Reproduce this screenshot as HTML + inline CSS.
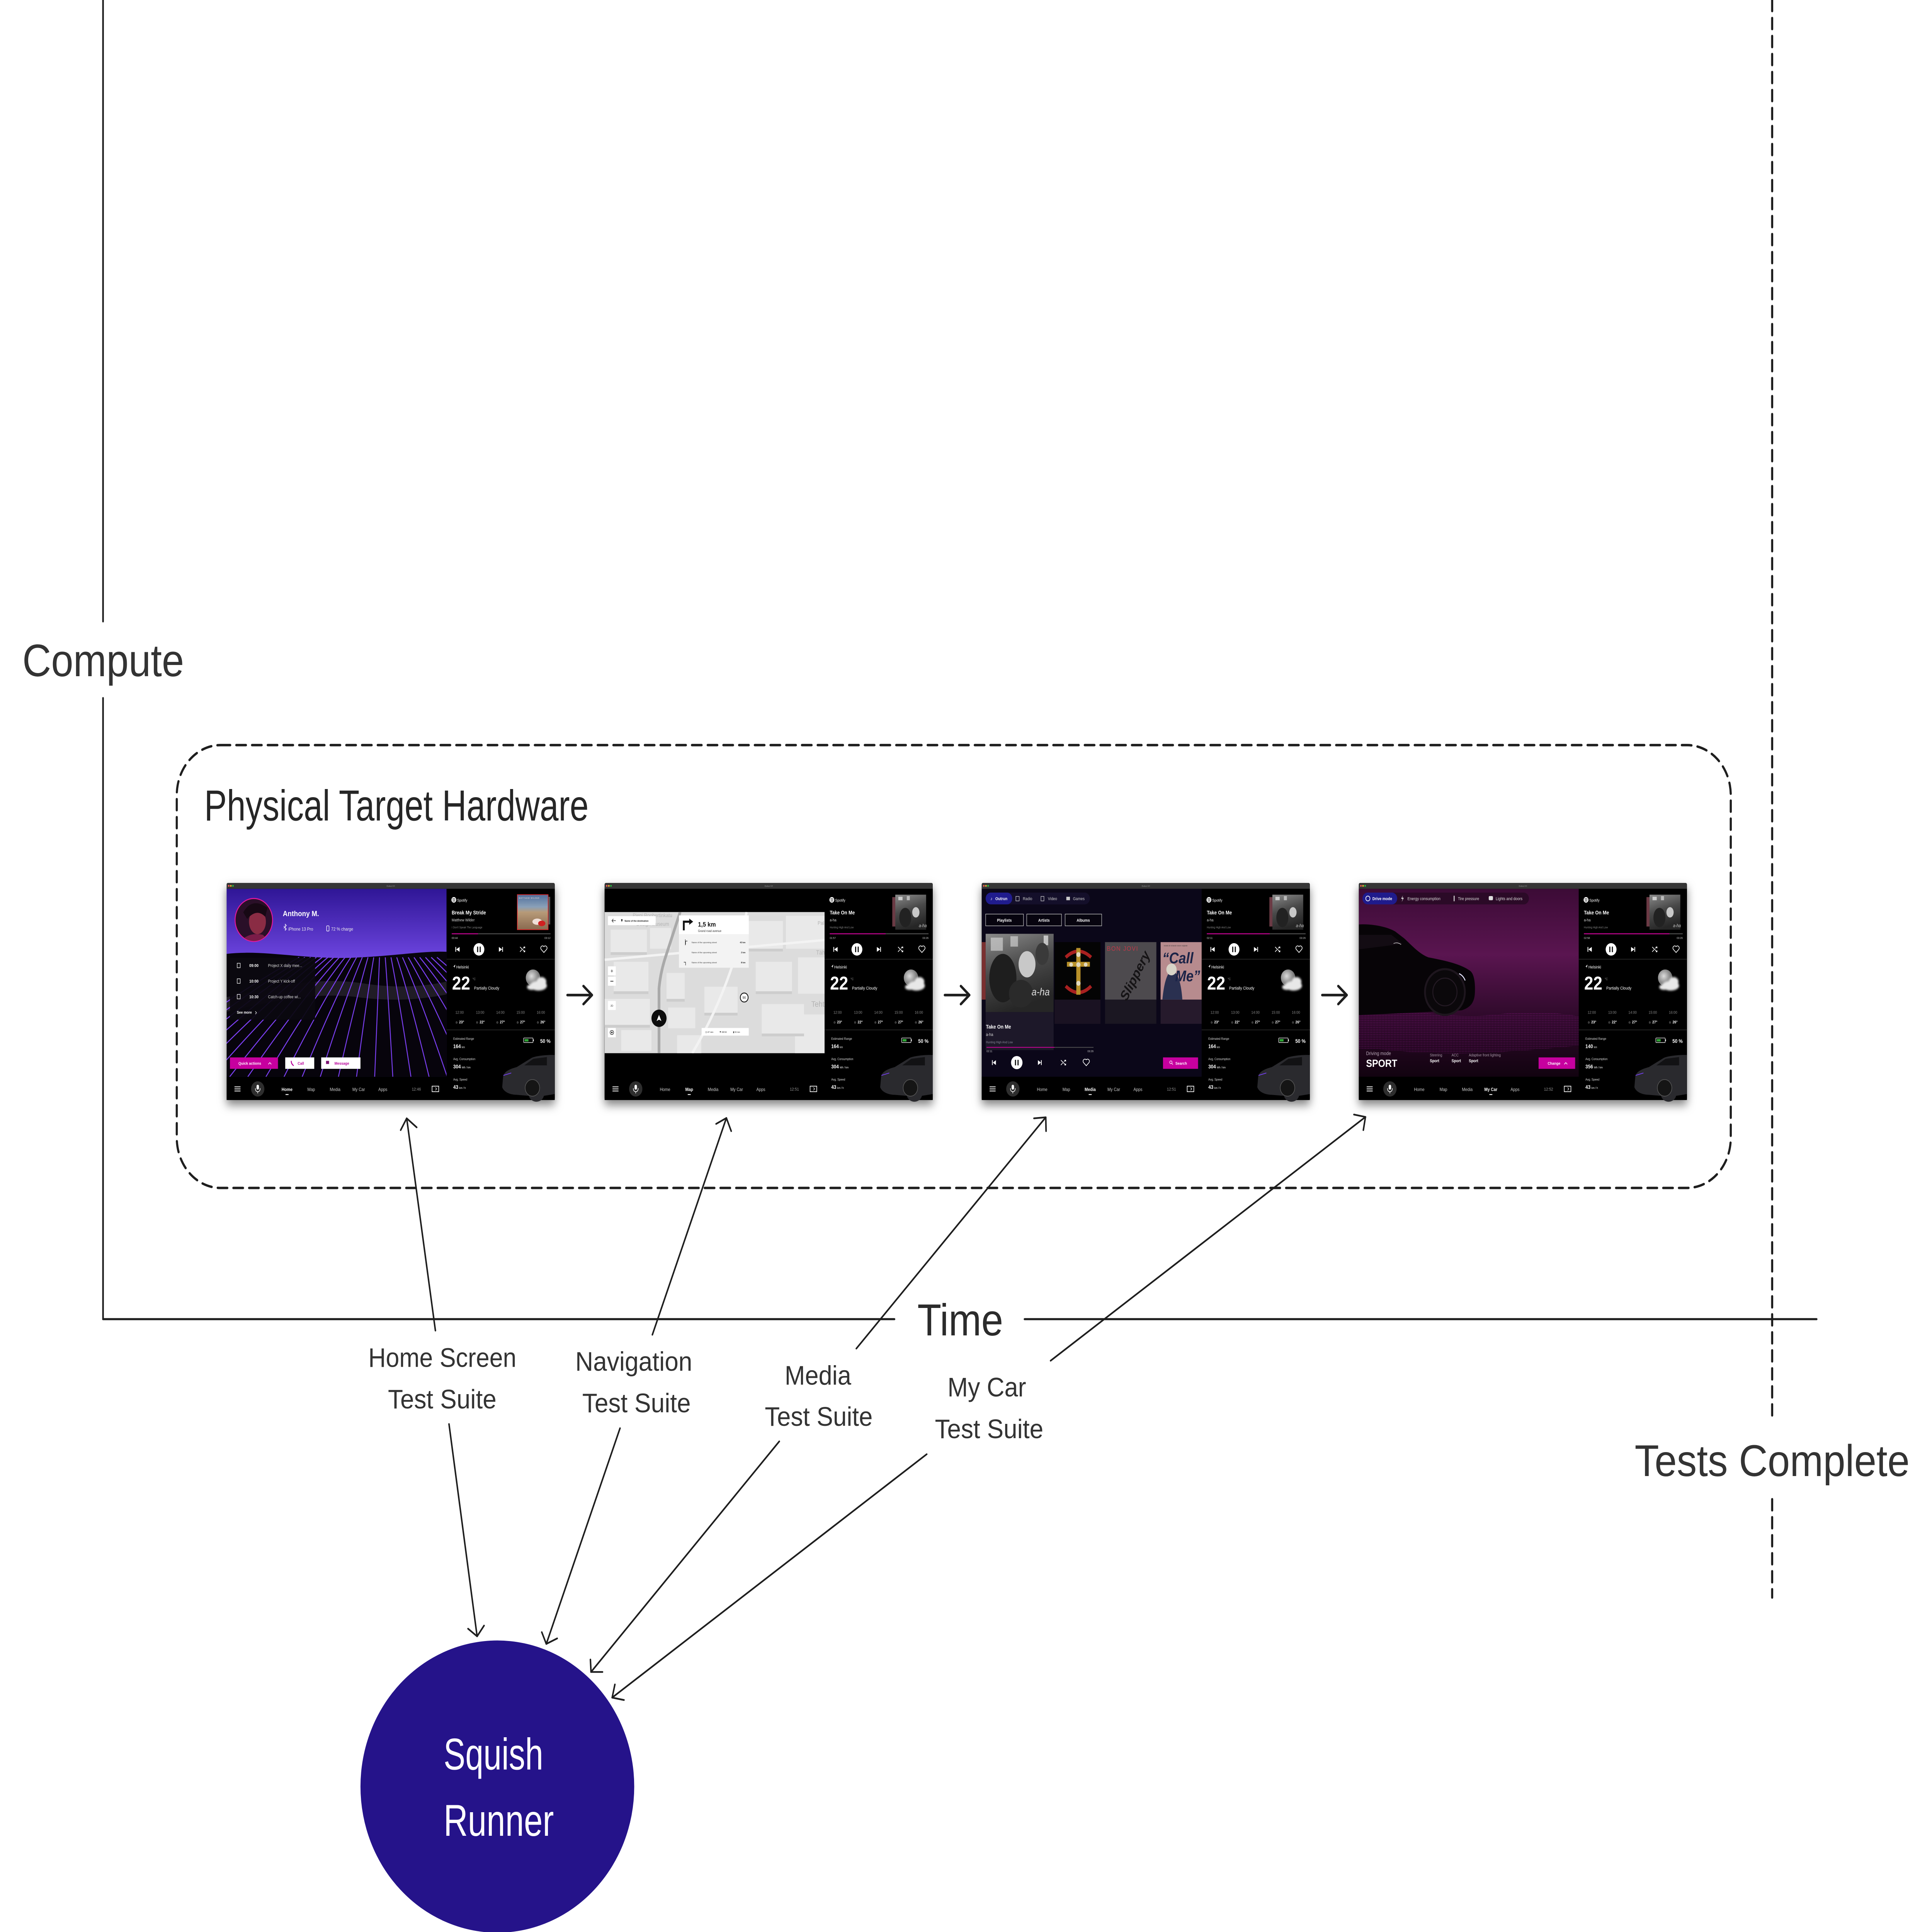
<!DOCTYPE html>
<html><head><meta charset="utf-8"><style>
html,body{margin:0;padding:0;background:#fff;width:100%;height:100%;overflow:hidden;}
svg{display:block;width:100vw;height:100vh;}
text{font-family:"Liberation Sans",sans-serif;}
</style></head><body>
<svg xmlns="http://www.w3.org/2000/svg" viewBox="0 0 6394 5580" preserveAspectRatio="none">
<defs>
<filter id="sh" x="-6%" y="-6%" width="112%" height="124%"><feDropShadow dx="0" dy="14" stdDeviation="14" flood-color="#000" flood-opacity="0.5"/></filter>
<filter id="bl2" x="-50%" y="-50%" width="200%" height="200%"><feGaussianBlur stdDeviation="3"/></filter>
<clipPath id="lp"><rect x="0" y="17" width="728" height="543"/></clipPath>
<clipPath id="mp"><rect x="0" y="84" width="728" height="408"/></clipPath>
<clipPath id="av"><circle cx="90" cy="107" r="61"/></clipPath>
<linearGradient id="sky1" x1="0" y1="17" x2="0" y2="215" gradientUnits="userSpaceOnUse"><stop offset="0" stop-color="#2f1696"/><stop offset="1" stop-color="#6c44de"/></linearGradient>
<radialGradient id="moon" cx="0.4" cy="0.4" r="0.6"><stop offset="0" stop-color="#dcdcdc"/><stop offset="1" stop-color="#666"/></radialGradient>
<linearGradient id="art1" x1="0" y1="0" x2="0" y2="1"><stop offset="0" stop-color="#4f6f9c"/><stop offset="0.35" stop-color="#8aa0b8"/><stop offset="0.5" stop-color="#b79a78"/><stop offset="1" stop-color="#8a6a50"/></linearGradient>
<linearGradient id="bw" x1="0" y1="0" x2="0.3" y2="1"><stop offset="0" stop-color="#8a8a8a"/><stop offset="0.5" stop-color="#4a4a4a"/><stop offset="1" stop-color="#262626"/></linearGradient>
<linearGradient id="sky4" x1="0" y1="17" x2="0" y2="560" gradientUnits="userSpaceOnUse"><stop offset="0" stop-color="#3c0b36"/><stop offset="0.35" stop-color="#5a1550"/><stop offset="0.7" stop-color="#2c0928"/><stop offset="1" stop-color="#120310"/></linearGradient>
<pattern id="dots" width="5" height="5" patternUnits="userSpaceOnUse"><circle cx="2.5" cy="2.5" r="1.1" fill="#c21fc0"/></pattern>
</defs>

<rect width="6394" height="5580" fill="#fff"/>

<!-- axes -->
<g stroke="#1e1e1e" stroke-linecap="round" fill="none">
<line x1="341" y1="0" x2="341" y2="1795" stroke-width="5.5"/>
<line x1="341" y1="2016" x2="341" y2="3810" stroke-width="5.5"/>
<line x1="341" y1="3810" x2="2960" y2="3810" stroke-width="6"/>
<line x1="3391" y1="3810" x2="6012" y2="3810" stroke-width="6"/>
<line x1="5865" y1="0" x2="5865" y2="4105" stroke-width="7" stroke-dasharray="32 20"/>
<line x1="5865" y1="4330" x2="5865" y2="4614" stroke-width="7" stroke-dasharray="32 20"/>
<rect x="585" y="2152" width="5143" height="1279" rx="145" ry="145" stroke-width="7" stroke-dasharray="32 20"/>
</g>

<!-- big labels -->
<text x="74" y="1953" font-size="132" fill="#333" textLength="535" lengthAdjust="spacingAndGlyphs">Compute</text>
<text x="676" y="2370" font-size="125" fill="#262626" textLength="1272" lengthAdjust="spacingAndGlyphs">Physical Target Hardware</text>
<text x="3036" y="3857" font-size="130" fill="#2b2b2b" textLength="284" lengthAdjust="spacingAndGlyphs">Time</text>
<text x="5410" y="4263" font-size="128" fill="#333" textLength="910" lengthAdjust="spacingAndGlyphs">Tests Complete</text>

<!-- suite labels -->
<g font-size="78" fill="#333">
<text x="1219" y="3948" textLength="490" lengthAdjust="spacingAndGlyphs">Home Screen</text>
<text x="1284" y="4068" textLength="359" lengthAdjust="spacingAndGlyphs">Test Suite</text>
<text x="1904" y="3959" textLength="387" lengthAdjust="spacingAndGlyphs">Navigation</text>
<text x="1927" y="4079" textLength="359" lengthAdjust="spacingAndGlyphs">Test Suite</text>
<text x="2597" y="3999" textLength="220" lengthAdjust="spacingAndGlyphs">Media</text>
<text x="2531" y="4118" textLength="357" lengthAdjust="spacingAndGlyphs">Test Suite</text>
<text x="3136" y="4033" textLength="260" lengthAdjust="spacingAndGlyphs">My Car</text>
<text x="3094" y="4154" textLength="359" lengthAdjust="spacingAndGlyphs">Test Suite</text>
</g>

<!-- connectors -->
<g stroke="#1e1e1e" stroke-width="5" stroke-linecap="round" stroke-linejoin="round" fill="none">
<line x1="1441" y1="3843" x2="1346" y2="3230"/><polyline points="1326,3264 1346,3230 1379,3256"/>
<line x1="2159" y1="3855" x2="2404" y2="3229"/><polyline points="2370,3246 2404,3229 2420,3267"/>
<line x1="2834" y1="3895" x2="3461" y2="3227"/><polyline points="3422,3230 3461,3227 3462,3267"/>
<line x1="3477" y1="3930" x2="4519" y2="3226"/><polyline points="4481,3219 4519,3226 4512,3264"/>
<line x1="1486" y1="4113" x2="1579" y2="4726"/><polyline points="1549,4704 1579,4726 1602,4695"/>
<line x1="2052" y1="4125" x2="1808" y2="4748"/><polyline points="1793,4714 1808,4748 1844,4732"/>
<line x1="2579" y1="4163" x2="1956" y2="4829"/><polyline points="1954,4793 1956,4829 1994,4829"/>
<line x1="3067" y1="4200" x2="2026" y2="4903"/><polyline points="2035,4865 2026,4903 2065,4910"/>
</g>
<g stroke="#1e1e1e" stroke-width="7.5" stroke-linecap="round" stroke-linejoin="round" fill="none">
<line x1="1878" y1="2874" x2="1959" y2="2874"/><polyline points="1931,2848 1959,2874 1931,2900"/>
<line x1="3127" y1="2874" x2="3208" y2="2874"/><polyline points="3180,2848 3208,2874 3180,2900"/>
<line x1="4376" y1="2874" x2="4457" y2="2874"/><polyline points="4429,2848 4457,2874 4429,2900"/>
</g>

<!-- Squish Runner -->
<ellipse cx="1646" cy="5160" rx="453" ry="422" fill="#25138a"/>
<text x="1468" y="5111" font-size="128" fill="#fff" textLength="330" lengthAdjust="spacingAndGlyphs">Squish</text>
<text x="1468" y="5302" font-size="128" fill="#fff" textLength="365" lengthAdjust="spacingAndGlyphs">Runner</text>

<!-- ================= SCREENSHOT 1 : HOME ================= -->
<g transform="translate(750,2550)">
<rect x="0" y="0" width="1086" height="627" rx="5" fill="#000" filter="url(#sh)"/>
<g clip-path="url(#lp)">
<rect x="0" y="17" width="728" height="543" fill="url(#sky1)"/>
<path d="M0 205 C120 192 260 222 420 216 C560 211 650 196 728 199 L728 560 L0 560Z" fill="#07040c"/>
<path d="M0 330 C150 300 300 270 450 290 C560 305 650 300 728 285 L728 322 C640 337 560 342 450 332 C300 312 150 342 0 372Z" fill="#34323c" opacity="0.55"/>
<g stroke="#7b3ff2" stroke-width="3" fill="none">
<path d="M-350 560 Q4 330 240 215"/><path d="M-290 560 Q39 330 259 215"/><path d="M-230 560 Q75 330 278 215"/>
<path d="M-170 560 Q110 330 297 215"/><path d="M-110 560 Q146 330 316 215"/><path d="M-50 560 Q181 330 335 215"/>
<path d="M10 560 Q216 330 354 215"/><path d="M70 560 Q252 330 373 215"/><path d="M130 560 Q287 330 392 215"/>
<path d="M190 560 Q323 330 411 215"/><path d="M250 560 Q358 330 430 215"/><path d="M310 560 Q393 330 449 215"/>
<path d="M370 560 Q429 330 468 215"/><path d="M430 560 Q464 330 487 215"/><path d="M490 560 Q500 330 506 215"/>
<path d="M550 560 Q535 330 525 215"/><path d="M610 560 Q570 330 544 215"/><path d="M670 560 Q606 330 563 215"/>
<path d="M730 560 Q641 330 582 215"/><path d="M790 560 Q677 330 601 215"/><path d="M850 560 Q712 330 620 215"/>
<path d="M910 560 Q747 330 639 215"/><path d="M970 560 Q783 330 658 215"/><path d="M1030 560 Q818 330 677 215"/>
<path d="M1090 560 Q854 330 696 215"/>
</g>
<circle cx="90" cy="107" r="62" fill="#2a0f28" stroke="#e3179d" stroke-width="3"/>
<g clip-path="url(#av)">
<path d="M40 175 Q70 140 120 150 L150 175Z" fill="#7a1c48"/>
<ellipse cx="102" cy="112" rx="28" ry="36" fill="#8a2c44"/>
<path d="M55 85 Q85 40 135 72 L128 98 Q100 72 68 104Z" fill="#170814"/>
</g>
<text x="186" y="96" font-size="22" font-weight="bold" fill="#fff">Anthony M.</text>
<path d="M189 125 L198 133 L194 137 V119 L198 123 L189 131" stroke="#fff" stroke-width="1.4" fill="none"/>
<text x="204" y="138" font-size="13" fill="#eee">iPhone 13 Pro</text>
<rect x="331" y="124" width="8" height="15" rx="1.5" fill="none" stroke="#fff" stroke-width="1.6"/>
<text x="346" y="138" font-size="13" fill="#eee">72 % charge</text>
<rect x="11" y="216" width="282" height="179" fill="#0b0810" opacity="0.94"/>
<g fill="none" stroke="#fff" stroke-width="1.5">
<rect x="35" y="232" width="10" height="13"/><rect x="35" y="277" width="10" height="13"/><rect x="35" y="322" width="10" height="13"/>
</g>
<g font-size="12" fill="#fff">
<text x="75" y="243" font-weight="bold">09:00</text><text x="137" y="243" fill="#ddd">Project X daily mee...</text>
<text x="75" y="288" font-weight="bold">10:00</text><text x="137" y="288" fill="#ddd">Project Y kick-off</text>
<text x="75" y="333" font-weight="bold">10:30</text><text x="137" y="333" fill="#ddd">Catch-up coffee wi...</text>
<text x="34" y="378" font-size="11" font-weight="bold">See more</text>
</g>
<path d="M95 371 L99 375 L95 379" stroke="#fff" stroke-width="1.5" fill="none"/>
<rect x="11" y="504" width="159" height="33" fill="#c7009f"/>
<text x="39" y="525" font-size="11.5" font-weight="bold" fill="#fff">Quick actions</text>
<path d="M138 524 L143 519 L148 524" stroke="#fff" stroke-width="1.8" fill="none"/>
<rect x="194" y="504" width="96" height="33" fill="#fff"/>
<path d="M214 514 Q213 522 222 528" stroke="#b8009a" stroke-width="3" fill="none"/>
<text x="235" y="525" font-size="11.5" font-weight="bold" fill="#b8009a">Call</text>
<rect x="313" y="504" width="130" height="33" fill="#fff"/>
<rect x="329" y="514" width="10" height="9" fill="#7a1070"/>
<text x="357" y="525" font-size="11.5" font-weight="bold" fill="#b8009a">Message</text>
</g>
<rect x="0" y="560" width="728" height="67" fill="#000"/>
<path d="M26 589 H46 M26 595 H46 M26 601 H46" stroke="#fff" stroke-width="2.2"/>
<circle cx="103" cy="595" r="22" fill="#2e2e2e"/>
<rect x="99" y="583" width="8" height="14" rx="4" fill="#fff"/><path d="M95 593 Q95 603 103 603 Q111 603 111 593 M103 603 V608" stroke="#fff" stroke-width="1.8" fill="none"/>
<g font-size="13" fill="#ccc" text-anchor="middle"><text x="200" y="601" fill="#fff" font-weight="bold">Home</text><text x="280" y="601">Map</text><text x="359" y="601">Media</text><text x="437" y="601">My Car</text><text x="517" y="601">Apps</text></g>
<rect x="195" y="610" width="10" height="2.5" fill="#fff"/>
<text x="628" y="600" font-size="12" fill="#999" text-anchor="middle">12:46</text>
<rect x="680" y="587" width="22" height="16" fill="none" stroke="#fff" stroke-width="2"/><path d="M691 591 L695 595 L691 599" stroke="#fff" stroke-width="1.5" fill="none"/>
<rect x="728" y="17" width="358" height="610" fill="#000"/>
<circle cx="752" cy="49" r="8" fill="#fff"/>
<path d="M747 46 Q752 44 757 47 M747.5 49.5 Q752 48 756.5 50.5 M748 53 Q752 52 755.5 53.5" stroke="#000" stroke-width="1.3" fill="none"/>
<text x="763" y="54" font-size="11" fill="#fff">Spotify</text>
<text x="745" y="91" font-size="15" font-weight="bold" fill="#fff">Break My Stride</text>
<text x="745" y="111" font-size="11" fill="#ddd">Matthew Wilder</text>
<text x="745" y="131" font-size="8" fill="#888">I Don't Speak The Language</text>
<rect x="1062" y="40" width="9" height="80" fill="#555"/>
<rect x="962" y="34" width="102" height="101" fill="url(#art1)" stroke="#e0262a" stroke-width="2"/>
<text x="967" y="46" font-size="6" fill="#f3d6d6" letter-spacing="1">MATTHEW WILDER</text>
<ellipse cx="1028" cy="112" rx="16" ry="9" fill="#f0e0d8"/><ellipse cx="1043" cy="117" rx="12" ry="8" fill="#d02020"/>
<line x1="745" y1="147" x2="1072" y2="147" stroke="#555" stroke-width="2.5"/>
<line x1="745" y1="147" x2="832" y2="147" stroke="#d6009e" stroke-width="2.5"/>
<text x="745" y="162" font-size="8" fill="#ccc">00:44</text><text x="1072" y="162" font-size="8" fill="#ccc" text-anchor="end">03:12</text>
<rect x="757" y="185" width="2.5" height="14" fill="#fff"/><path d="M771 185 L760 192 L771 199Z" fill="#fff"/>
<circle cx="835" cy="192" r="18" fill="#fff"/><rect x="829" y="184" width="3.5" height="16" fill="#000"/><rect x="837.5" y="184" width="3.5" height="16" fill="#000"/>
<path d="M901 185 L912 192 L901 199Z" fill="#fff"/><rect x="912" y="185" width="2.5" height="14" fill="#fff"/>
<path d="M971 185 L987 199 M971 199 L977 193 M981 189 L987 185 M983 185 H987 V189 M983 199 H987 V195" stroke="#fff" stroke-width="2" fill="none"/>
<path d="M1050 201 L1041 192 A5 5 0 0 1 1050 184 A5 5 0 0 1 1059 192 Z" stroke="#fff" stroke-width="2" fill="none"/>
<rect x="728" y="219" width="358" height="3" fill="#1c1c1c"/>
<path d="M757 236 L750 242 L754 242 L754 247 Z" fill="#fff"/>
<text x="760" y="247" font-size="12" fill="#fff">Helsinki</text>
<text x="746" y="308" font-size="54" font-weight="bold" fill="#fff">22</text>
<text x="814" y="281" font-size="9" fill="#999">°C</text>
<text x="819" y="308" font-size="12" fill="#fff">Partially Cloudy</text>
<circle cx="1014" cy="274" r="24" fill="url(#moon)"/>
<g fill="#e8e8e8" filter="url(#bl2)"><ellipse cx="1032" cy="297" rx="28" ry="14"/><ellipse cx="1042" cy="285" rx="16" ry="13"/><ellipse cx="1010" cy="301" rx="16" ry="8"/></g>
<g font-size="11" fill="#888" text-anchor="middle"><text x="771" y="378">12:00</text><text x="839" y="378">13:00</text><text x="906" y="378">14:00</text><text x="973" y="378">15:00</text><text x="1040" y="378">16:00</text></g>
<g font-size="11" font-weight="bold" fill="#fff" text-anchor="middle"><text x="771" y="406">☼ 23°</text><text x="839" y="406">☼ 22°</text><text x="906" y="406">☼ 27°</text><text x="973" y="406">☼ 27°</text><text x="1040" y="406">☼ 26°</text></g>
<rect x="728" y="423" width="358" height="3" fill="#1c1c1c"/>
<text x="750" y="453" font-size="9" fill="#ddd">Estimated Range</text>
<text x="750" y="477" font-size="15" font-weight="bold" fill="#fff">164<tspan font-size="8" font-weight="normal" dx="3">km</tspan></text>
<rect x="983" y="448" width="31" height="13" rx="1.5" fill="none" stroke="#fff" stroke-width="1.5"/><rect x="986" y="451" width="13" height="7" fill="#2fa836"/><rect x="1014.5" y="452" width="2" height="5" fill="#fff"/>
<text x="1072" y="462" font-size="15" font-weight="bold" fill="#fff" text-anchor="end">50 %</text>
<text x="750" y="512" font-size="9" fill="#ddd">Avg. Consumption</text>
<text x="750" y="536" font-size="15" font-weight="bold" fill="#fff">304<tspan font-size="8" font-weight="normal" dx="3">Wh / km</tspan></text>
<text x="750" y="571" font-size="9" fill="#ddd">Avg. Speed</text>
<text x="750" y="595" font-size="15" font-weight="bold" fill="#fff">43<tspan font-size="8" font-weight="normal" dx="3">km / h</tspan></text>
<path d="M915 560 C918 545 935 538 960 532 L1010 505 C1030 498 1070 496 1086 497 L1086 610 L1050 615 C1045 635 1010 640 1000 615 L960 612 C940 612 918 605 912 590 Z" fill="#2a2a2e"/>
<path d="M985 527 L1015 508 L1060 503 L1060 527 Z" fill="#121214"/>
<circle cx="1012" cy="592" r="24" fill="#151515" stroke="#555" stroke-width="2"/>
<line x1="916" y1="556" x2="942" y2="549" stroke="#7a40ff" stroke-width="2"/>
<path d="M5 0 H1081 Q1086 0 1086 5 V17 H0 V5 Q0 0 5 0Z" fill="#353535"/>
<circle cx="7" cy="8.5" r="2.6" fill="#ff5f57"/><circle cx="14" cy="8.5" r="2.6" fill="#febc2e"/><circle cx="21" cy="8.5" r="2.6" fill="#28c840"/>
<text x="543" y="11" font-size="6" fill="#999" text-anchor="middle">Outrun IVI</text>
</g>

<!-- ================= SCREENSHOT 2 : MAP ================= -->
<g transform="translate(2001,2550)">
<rect x="0" y="0" width="1086" height="627" rx="5" fill="#000" filter="url(#sh)"/>
<rect x="0" y="17" width="728" height="543" fill="#000"/>
<g clip-path="url(#mp)">
<rect x="0" y="84" width="728" height="408" fill="#dcdcdc"/>
<g fill="#e9e9e9">
<rect x="20" y="135" width="120" height="70"/><rect x="150" y="130" width="70" height="60"/><rect x="30" y="228" width="115" height="90"/>
<rect x="0" y="335" width="150" height="80"/><rect x="55" y="425" width="100" height="60"/><rect x="205" y="260" width="60" height="80"/>
<rect x="470" y="110" width="120" height="85"/><rect x="600" y="95" width="128" height="95"/><rect x="500" y="228" width="120" height="90"/>
<rect x="640" y="215" width="88" height="105"/><rect x="520" y="350" width="140" height="90"/><rect x="240" y="440" width="80" height="52"/>
<rect x="630" y="380" width="98" height="112"/><rect x="330" y="300" width="110" height="80"/><rect x="210" y="360" width="90" height="60"/>
</g>
<g fill="#cdcdcd">
<rect x="20" y="200" width="120" height="8"/><rect x="30" y="313" width="115" height="8"/><rect x="470" y="190" width="120" height="8"/>
<rect x="500" y="313" width="120" height="8"/><rect x="520" y="435" width="140" height="8"/><rect x="330" y="375" width="110" height="8"/>
<rect x="205" y="335" width="60" height="8"/><rect x="0" y="410" width="150" height="8"/>
</g>
<path d="M0 222 L728 165" stroke="#f3f3f3" stroke-width="7" fill="none"/>
<path d="M290 492 Q420 300 470 84" stroke="#f3f3f3" stroke-width="8" fill="none"/>
<path d="M180 492 L180 305 Q185 255 205 205 L250 84" stroke="#a9a9a9" stroke-width="9" fill="none"/>
<g font-size="15" fill="#b3b3b3"><text x="93" y="99">Pieni Roobertinkatu</text><text x="105" y="124">Design Museum</text><text x="705" y="121">Pal</text><text x="700" y="207" font-size="17">Täh</text><text x="684" y="358" font-size="23">Teht</text></g>
</g>
<rect x="11" y="96" width="158" height="26" fill="#fff"/>
<path d="M24 109 H37 M24 109 L29 104 M24 109 L29 114" stroke="#222" stroke-width="1.5" fill="none"/>
<circle cx="57" cy="107" r="2.5" fill="#222"/><path d="M55 108 L57 113 L59 108Z" fill="#222"/>
<text x="66" y="112" font-size="7" font-weight="bold" fill="#222">Name of the destination</text>
<rect x="246" y="94" width="231" height="151" fill="#f3f3f3"/>
<rect x="246" y="94" width="231" height="54" fill="#fff"/>
<path d="M262 137 V112 H283" stroke="#111" stroke-width="6" fill="none"/><path d="M280 103 L293 112 L280 121Z" fill="#111"/>
<text x="309" y="126" font-size="19" font-weight="bold" fill="#111">1,5 km</text>
<text x="309" y="142" font-size="9" fill="#333">Grand road avenue</text>
<path d="M268 178 V168 H274 M267 180 V163 M268 238 V229 H262" stroke="#222" stroke-width="1.3" fill="none"/>
<g font-size="6.5" fill="#444"><text x="288" y="174">Name of the upcoming street</text><text x="288" y="203">Name of the upcoming street</text><text x="288" y="232">Name of the upcoming street</text></g>
<g font-size="6.5" font-weight="bold" fill="#222" text-anchor="end"><text x="466" y="174">43 km</text><text x="466" y="203">2 km</text><text x="466" y="232">8 km</text></g>
<rect x="11" y="241" width="26" height="26" fill="#fff"/><text x="24" y="260" font-size="16" text-anchor="middle" fill="#222">+</text>
<rect x="11" y="271" width="26" height="26" fill="#fff"/><rect x="19" y="283" width="10" height="2" fill="#222"/>
<rect x="11" y="341" width="26" height="26" fill="#fff"/><text x="24" y="357" font-size="7" text-anchor="middle" fill="#222">2D</text>
<rect x="11" y="419" width="26" height="27" fill="#fff"/><circle cx="24" cy="432" r="6" fill="none" stroke="#222" stroke-width="1.5"/><circle cx="24" cy="432" r="2.5" fill="#222"/>
<circle cx="180" cy="391" r="25" fill="#0d0d0d"/><path d="M180 381 L188 399 L180 395 L172 399Z" fill="#fff"/>
<circle cx="462" cy="331" r="13" fill="#fff" stroke="#111" stroke-width="2.5"/><text x="462" y="335" font-size="10" text-anchor="middle" fill="#111">90</text>
<rect x="321" y="419" width="156" height="22" fill="#fff"/>
<g font-size="6.5" fill="#222"><text x="333" y="433">◷ 47 min</text><text x="380" y="433">⚑ 08:59</text><text x="425" y="433">▮ 91 km</text></g>
<rect x="0" y="560" width="728" height="67" fill="#000"/>
<path d="M26 589 H46 M26 595 H46 M26 601 H46" stroke="#fff" stroke-width="2.2"/>
<circle cx="103" cy="595" r="22" fill="#2e2e2e"/>
<rect x="99" y="583" width="8" height="14" rx="4" fill="#fff"/><path d="M95 593 Q95 603 103 603 Q111 603 111 593 M103 603 V608" stroke="#fff" stroke-width="1.8" fill="none"/>
<g font-size="13" fill="#ccc" text-anchor="middle"><text x="200" y="601">Home</text><text x="280" y="601" fill="#fff" font-weight="bold">Map</text><text x="359" y="601">Media</text><text x="437" y="601">My Car</text><text x="517" y="601">Apps</text></g>
<rect x="275" y="610" width="10" height="2.5" fill="#fff"/>
<text x="628" y="600" font-size="12" fill="#999" text-anchor="middle">12:51</text>
<rect x="680" y="587" width="22" height="16" fill="none" stroke="#fff" stroke-width="2"/><path d="M691 591 L695 595 L691 599" stroke="#fff" stroke-width="1.5" fill="none"/>
<rect x="728" y="17" width="358" height="610" fill="#000"/>
<circle cx="752" cy="49" r="8" fill="#fff"/>
<path d="M747 46 Q752 44 757 47 M747.5 49.5 Q752 48 756.5 50.5 M748 53 Q752 52 755.5 53.5" stroke="#000" stroke-width="1.3" fill="none"/>
<text x="763" y="54" font-size="11" fill="#fff">Spotify</text>
<text x="745" y="91" font-size="15" font-weight="bold" fill="#fff">Take On Me</text>
<text x="745" y="111" font-size="11" fill="#ddd">a-ha</text>
<text x="745" y="131" font-size="8" fill="#888">Hunting High And Low</text>
<rect x="952" y="41" width="12" height="85" fill="#6a3a44"/>
<rect x="962" y="34" width="102" height="101" fill="url(#bw)"/>
<rect x="972" y="40" width="14" height="10" fill="#ccc"/><rect x="1000" y="38" width="10" height="12" fill="#bbb"/>
<ellipse cx="995" cy="100" rx="20" ry="28" fill="#222"/><ellipse cx="1030" cy="85" rx="12" ry="15" fill="#c8c8c8"/>
<text x="1040" y="128" font-size="13" font-style="italic" fill="#ccc">a-ha</text>
<line x1="745" y1="147" x2="1072" y2="147" stroke="#555" stroke-width="2.5"/>
<line x1="745" y1="147" x2="930" y2="147" stroke="#d6009e" stroke-width="2.5"/>
<text x="745" y="162" font-size="8" fill="#ccc">01:57</text><text x="1072" y="162" font-size="8" fill="#ccc" text-anchor="end">03:26</text>
<rect x="757" y="185" width="2.5" height="14" fill="#fff"/><path d="M771 185 L760 192 L771 199Z" fill="#fff"/>
<circle cx="835" cy="192" r="18" fill="#fff"/><rect x="829" y="184" width="3.5" height="16" fill="#000"/><rect x="837.5" y="184" width="3.5" height="16" fill="#000"/>
<path d="M901 185 L912 192 L901 199Z" fill="#fff"/><rect x="912" y="185" width="2.5" height="14" fill="#fff"/>
<path d="M971 185 L987 199 M971 199 L977 193 M981 189 L987 185 M983 185 H987 V189 M983 199 H987 V195" stroke="#fff" stroke-width="2" fill="none"/>
<path d="M1050 201 L1041 192 A5 5 0 0 1 1050 184 A5 5 0 0 1 1059 192 Z" stroke="#fff" stroke-width="2" fill="none"/>
<rect x="728" y="219" width="358" height="3" fill="#1c1c1c"/>
<path d="M757 236 L750 242 L754 242 L754 247 Z" fill="#fff"/>
<text x="760" y="247" font-size="12" fill="#fff">Helsinki</text>
<text x="746" y="308" font-size="54" font-weight="bold" fill="#fff">22</text>
<text x="814" y="281" font-size="9" fill="#999">°C</text>
<text x="819" y="308" font-size="12" fill="#fff">Partially Cloudy</text>
<circle cx="1014" cy="274" r="24" fill="url(#moon)"/>
<g fill="#e8e8e8" filter="url(#bl2)"><ellipse cx="1032" cy="297" rx="28" ry="14"/><ellipse cx="1042" cy="285" rx="16" ry="13"/><ellipse cx="1010" cy="301" rx="16" ry="8"/></g>
<g font-size="11" fill="#888" text-anchor="middle"><text x="771" y="378">12:00</text><text x="839" y="378">13:00</text><text x="906" y="378">14:00</text><text x="973" y="378">15:00</text><text x="1040" y="378">16:00</text></g>
<g font-size="11" font-weight="bold" fill="#fff" text-anchor="middle"><text x="771" y="406">☼ 23°</text><text x="839" y="406">☼ 22°</text><text x="906" y="406">☼ 27°</text><text x="973" y="406">☼ 27°</text><text x="1040" y="406">☼ 26°</text></g>
<rect x="728" y="423" width="358" height="3" fill="#1c1c1c"/>
<text x="750" y="453" font-size="9" fill="#ddd">Estimated Range</text>
<text x="750" y="477" font-size="15" font-weight="bold" fill="#fff">164<tspan font-size="8" font-weight="normal" dx="3">km</tspan></text>
<rect x="983" y="448" width="31" height="13" rx="1.5" fill="none" stroke="#fff" stroke-width="1.5"/><rect x="986" y="451" width="13" height="7" fill="#2fa836"/><rect x="1014.5" y="452" width="2" height="5" fill="#fff"/>
<text x="1072" y="462" font-size="15" font-weight="bold" fill="#fff" text-anchor="end">50 %</text>
<text x="750" y="512" font-size="9" fill="#ddd">Avg. Consumption</text>
<text x="750" y="536" font-size="15" font-weight="bold" fill="#fff">304<tspan font-size="8" font-weight="normal" dx="3">Wh / km</tspan></text>
<text x="750" y="571" font-size="9" fill="#ddd">Avg. Speed</text>
<text x="750" y="595" font-size="15" font-weight="bold" fill="#fff">43<tspan font-size="8" font-weight="normal" dx="3">km / h</tspan></text>
<path d="M915 560 C918 545 935 538 960 532 L1010 505 C1030 498 1070 496 1086 497 L1086 610 L1050 615 C1045 635 1010 640 1000 615 L960 612 C940 612 918 605 912 590 Z" fill="#2a2a2e"/>
<path d="M985 527 L1015 508 L1060 503 L1060 527 Z" fill="#121214"/>
<circle cx="1012" cy="592" r="24" fill="#151515" stroke="#555" stroke-width="2"/>
<line x1="916" y1="556" x2="942" y2="549" stroke="#7a40ff" stroke-width="2"/>
<path d="M5 0 H1081 Q1086 0 1086 5 V17 H0 V5 Q0 0 5 0Z" fill="#353535"/>
<circle cx="7" cy="8.5" r="2.6" fill="#ff5f57"/><circle cx="14" cy="8.5" r="2.6" fill="#febc2e"/><circle cx="21" cy="8.5" r="2.6" fill="#28c840"/>
<text x="543" y="11" font-size="6" fill="#999" text-anchor="middle">Outrun IVI</text>
</g>

<!-- ================= SCREENSHOT 3 : MEDIA ================= -->
<g transform="translate(3249,2550)">
<rect x="0" y="0" width="1086" height="627" rx="5" fill="#000" filter="url(#sh)"/>
<g clip-path="url(#lp)">
<rect x="0" y="17" width="728" height="543" fill="#0b0719"/>
<rect x="13" y="28" width="345" height="34" rx="17" fill="#140f2a"/>
<rect x="13" y="28" width="88" height="34" rx="17" fill="#201c8e"/>
<text x="29" y="50" font-size="13" fill="#fff">♪</text>
<text x="45" y="50" font-size="12" font-weight="bold" fill="#fff">Outrun</text>
<rect x="113" y="39" width="11" height="13" fill="none" stroke="#ccc" stroke-width="1.5"/>
<rect x="196" y="39" width="10" height="13" fill="none" stroke="#ccc" stroke-width="1.5"/>
<rect x="280" y="40" width="12" height="10" fill="#ccc"/>
<g font-size="12" fill="#ccc"><text x="136" y="50">Radio</text><text x="219" y="50">Video</text><text x="302" y="50">Games</text></g>
<g fill="#07040f" stroke="#c8c8c8" stroke-width="1.5"><rect x="13" y="90" width="125" height="34"/><rect x="149" y="90" width="115" height="34"/><rect x="276" y="90" width="121" height="34"/></g>
<g font-size="12" font-weight="bold" fill="#fff" text-anchor="middle"><text x="75" y="112">Playlists</text><text x="206" y="112">Artists</text><text x="336" y="112">Albums</text></g>
<rect x="13" y="373" width="225" height="110" fill="#2a2434" opacity="0.6"/>
<rect x="241" y="337" width="152" height="70" fill="#1a1222"/>
<rect x="408" y="337" width="170" height="70" fill="#1b1722"/>
<rect x="592" y="337" width="136" height="70" fill="#261a2c"/>
<rect x="0" y="171" width="13" height="166" fill="#7a3030"/>
<rect x="13" y="147" width="225" height="226" fill="url(#bw)"/>
<rect x="30" y="158" width="40" height="38" fill="#cfcfcf" opacity="0.7"/><rect x="95" y="154" width="25" height="30" fill="#ddd" opacity="0.6"/><rect x="205" y="152" width="15" height="28" fill="#eee" opacity="0.7"/>
<ellipse cx="70" cy="275" rx="45" ry="70" fill="#1e1e1e"/>
<ellipse cx="150" cy="235" rx="28" ry="38" fill="#c8c8c8"/>
<ellipse cx="200" cy="205" rx="22" ry="32" fill="#3a3a3a"/>
<ellipse cx="130" cy="320" rx="40" ry="40" fill="#2a2a2a"/>
<text x="165" y="325" font-size="30" font-style="italic" fill="#ddd">a-ha</text>
<rect x="241" y="171" width="152" height="166" fill="#040404"/>
<path d="M278 215 Q320 180 362 215 M278 298 Q320 335 362 298" stroke="#a82020" stroke-width="10" fill="none"/>
<rect x="313" y="188" width="14" height="135" fill="#b8912a"/><rect x="282" y="228" width="76" height="14" fill="#b8912a"/>
<g fill="#e0d8c0"><circle cx="320" cy="207" r="7"/><circle cx="296" cy="236" r="6"/><circle cx="344" cy="236" r="6"/><circle cx="320" cy="236" r="7"/><circle cx="320" cy="290" r="7"/></g>
<rect x="408" y="171" width="170" height="166" fill="#4d4a4e"/>
<text x="420" y="320" font-size="40" font-style="italic" font-weight="bold" fill="#151315" transform="rotate(-60 470 280)">Slippery</text>
<text x="414" y="196" font-size="19" fill="#c23848" letter-spacing="2">BON JOVI</text>
<rect x="592" y="171" width="136" height="166" fill="#b78b8e"/>
<path d="M598 337 Q606 262 630 252 Q658 262 664 337Z" fill="#2a3050"/>
<circle cx="628" cy="250" r="17" fill="#d8d4c8"/>
<text x="598" y="232" font-size="44" font-style="italic" font-weight="bold" fill="#1b2347">“Call</text>
<text x="640" y="284" font-size="44" font-style="italic" font-weight="bold" fill="#1b2347">Me”</text>
<text x="603" y="183" font-size="5" fill="#333">Extrait de la bande sonore originale</text>
<text x="14" y="421" font-size="15" font-weight="bold" fill="#fff">Take On Me</text>
<text x="14" y="442" font-size="12" fill="#ddd">a-ha</text>
<text x="14" y="463" font-size="9" fill="#8a8a9a">Hunting High And Low</text>
<line x1="16" y1="475" x2="370" y2="475" stroke="#555" stroke-width="2"/>
<line x1="16" y1="475" x2="241" y2="475" stroke="#d6009e" stroke-width="2"/>
<text x="16" y="489" font-size="8" fill="#ccc">02:11</text><text x="370" y="489" font-size="8" fill="#ccc" text-anchor="end">03:26</text>
<rect x="34" y="512" width="2.5" height="14" fill="#fff"/><path d="M47 512 L37 519 L47 526Z" fill="#fff"/>
<circle cx="116" cy="519" r="19" fill="#fff"/><rect x="110" y="511" width="3.5" height="16" fill="#000"/><rect x="118.5" y="511" width="3.5" height="16" fill="#000"/>
<path d="M186 512 L196 519 L186 526Z" fill="#fff"/><rect x="196" y="512" width="2.5" height="14" fill="#fff"/>
<path d="M262 512 L278 526 M262 526 L268 520 M272 516 L278 512 M274 512 H278 V516 M274 526 H278 V522" stroke="#fff" stroke-width="2" fill="none"/>
<path d="M346 528 L337 519 A5 5 0 0 1 346 511 A5 5 0 0 1 355 519 Z" stroke="#fff" stroke-width="2" fill="none"/>
<rect x="600" y="504" width="116" height="33" fill="#c7009f"/>
<circle cx="626" cy="518" r="4" fill="none" stroke="#fff" stroke-width="1.5"/><path d="M629 521 L633 525" stroke="#fff" stroke-width="1.5"/>
<text x="641" y="525" font-size="11.5" font-weight="bold" fill="#fff">Search</text>
</g>
<rect x="0" y="560" width="728" height="67" fill="#000"/>
<path d="M26 589 H46 M26 595 H46 M26 601 H46" stroke="#fff" stroke-width="2.2"/>
<circle cx="103" cy="595" r="22" fill="#2e2e2e"/>
<rect x="99" y="583" width="8" height="14" rx="4" fill="#fff"/><path d="M95 593 Q95 603 103 603 Q111 603 111 593 M103 603 V608" stroke="#fff" stroke-width="1.8" fill="none"/>
<g font-size="13" fill="#ccc" text-anchor="middle"><text x="200" y="601">Home</text><text x="280" y="601">Map</text><text x="359" y="601" fill="#fff" font-weight="bold">Media</text><text x="437" y="601">My Car</text><text x="517" y="601">Apps</text></g>
<rect x="354" y="610" width="10" height="2.5" fill="#fff"/>
<text x="628" y="600" font-size="12" fill="#999" text-anchor="middle">12:51</text>
<rect x="680" y="587" width="22" height="16" fill="none" stroke="#fff" stroke-width="2"/><path d="M691 591 L695 595 L691 599" stroke="#fff" stroke-width="1.5" fill="none"/>
<rect x="728" y="17" width="358" height="610" fill="#000"/>
<circle cx="752" cy="49" r="8" fill="#fff"/>
<path d="M747 46 Q752 44 757 47 M747.5 49.5 Q752 48 756.5 50.5 M748 53 Q752 52 755.5 53.5" stroke="#000" stroke-width="1.3" fill="none"/>
<text x="763" y="54" font-size="11" fill="#fff">Spotify</text>
<text x="745" y="91" font-size="15" font-weight="bold" fill="#fff">Take On Me</text>
<text x="745" y="111" font-size="11" fill="#ddd">a-ha</text>
<text x="745" y="131" font-size="8" fill="#888">Hunting High And Low</text>
<rect x="952" y="41" width="12" height="85" fill="#6a3a44"/>
<rect x="962" y="34" width="102" height="101" fill="url(#bw)"/>
<rect x="972" y="40" width="14" height="10" fill="#ccc"/><rect x="1000" y="38" width="10" height="12" fill="#bbb"/>
<ellipse cx="995" cy="100" rx="20" ry="28" fill="#222"/><ellipse cx="1030" cy="85" rx="12" ry="15" fill="#c8c8c8"/>
<text x="1040" y="128" font-size="13" font-style="italic" fill="#ccc">a-ha</text>
<line x1="745" y1="147" x2="1072" y2="147" stroke="#555" stroke-width="2.5"/>
<line x1="745" y1="147" x2="953" y2="147" stroke="#d6009e" stroke-width="2.5"/>
<text x="745" y="162" font-size="8" fill="#ccc">02:11</text><text x="1072" y="162" font-size="8" fill="#ccc" text-anchor="end">03:26</text>
<rect x="757" y="185" width="2.5" height="14" fill="#fff"/><path d="M771 185 L760 192 L771 199Z" fill="#fff"/>
<circle cx="835" cy="192" r="18" fill="#fff"/><rect x="829" y="184" width="3.5" height="16" fill="#000"/><rect x="837.5" y="184" width="3.5" height="16" fill="#000"/>
<path d="M901 185 L912 192 L901 199Z" fill="#fff"/><rect x="912" y="185" width="2.5" height="14" fill="#fff"/>
<path d="M971 185 L987 199 M971 199 L977 193 M981 189 L987 185 M983 185 H987 V189 M983 199 H987 V195" stroke="#fff" stroke-width="2" fill="none"/>
<path d="M1050 201 L1041 192 A5 5 0 0 1 1050 184 A5 5 0 0 1 1059 192 Z" stroke="#fff" stroke-width="2" fill="none"/>
<rect x="728" y="219" width="358" height="3" fill="#1c1c1c"/>
<path d="M757 236 L750 242 L754 242 L754 247 Z" fill="#fff"/>
<text x="760" y="247" font-size="12" fill="#fff">Helsinki</text>
<text x="746" y="308" font-size="54" font-weight="bold" fill="#fff">22</text>
<text x="814" y="281" font-size="9" fill="#999">°C</text>
<text x="819" y="308" font-size="12" fill="#fff">Partially Cloudy</text>
<circle cx="1014" cy="274" r="24" fill="url(#moon)"/>
<g fill="#e8e8e8" filter="url(#bl2)"><ellipse cx="1032" cy="297" rx="28" ry="14"/><ellipse cx="1042" cy="285" rx="16" ry="13"/><ellipse cx="1010" cy="301" rx="16" ry="8"/></g>
<g font-size="11" fill="#888" text-anchor="middle"><text x="771" y="378">12:00</text><text x="839" y="378">13:00</text><text x="906" y="378">14:00</text><text x="973" y="378">15:00</text><text x="1040" y="378">16:00</text></g>
<g font-size="11" font-weight="bold" fill="#fff" text-anchor="middle"><text x="771" y="406">☼ 23°</text><text x="839" y="406">☼ 22°</text><text x="906" y="406">☼ 27°</text><text x="973" y="406">☼ 27°</text><text x="1040" y="406">☼ 26°</text></g>
<rect x="728" y="423" width="358" height="3" fill="#1c1c1c"/>
<text x="750" y="453" font-size="9" fill="#ddd">Estimated Range</text>
<text x="750" y="477" font-size="15" font-weight="bold" fill="#fff">164<tspan font-size="8" font-weight="normal" dx="3">km</tspan></text>
<rect x="983" y="448" width="31" height="13" rx="1.5" fill="none" stroke="#fff" stroke-width="1.5"/><rect x="986" y="451" width="13" height="7" fill="#2fa836"/><rect x="1014.5" y="452" width="2" height="5" fill="#fff"/>
<text x="1072" y="462" font-size="15" font-weight="bold" fill="#fff" text-anchor="end">50 %</text>
<text x="750" y="512" font-size="9" fill="#ddd">Avg. Consumption</text>
<text x="750" y="536" font-size="15" font-weight="bold" fill="#fff">304<tspan font-size="8" font-weight="normal" dx="3">Wh / km</tspan></text>
<text x="750" y="571" font-size="9" fill="#ddd">Avg. Speed</text>
<text x="750" y="595" font-size="15" font-weight="bold" fill="#fff">43<tspan font-size="8" font-weight="normal" dx="3">km / h</tspan></text>
<path d="M915 560 C918 545 935 538 960 532 L1010 505 C1030 498 1070 496 1086 497 L1086 610 L1050 615 C1045 635 1010 640 1000 615 L960 612 C940 612 918 605 912 590 Z" fill="#2a2a2e"/>
<path d="M985 527 L1015 508 L1060 503 L1060 527 Z" fill="#121214"/>
<circle cx="1012" cy="592" r="24" fill="#151515" stroke="#555" stroke-width="2"/>
<line x1="916" y1="556" x2="942" y2="549" stroke="#7a40ff" stroke-width="2"/>
<path d="M5 0 H1081 Q1086 0 1086 5 V17 H0 V5 Q0 0 5 0Z" fill="#353535"/>
<circle cx="7" cy="8.5" r="2.6" fill="#ff5f57"/><circle cx="14" cy="8.5" r="2.6" fill="#febc2e"/><circle cx="21" cy="8.5" r="2.6" fill="#28c840"/>
<text x="543" y="11" font-size="6" fill="#999" text-anchor="middle">Outrun IVI</text>
</g>

<!-- ================= SCREENSHOT 4 : MY CAR ================= -->
<g transform="translate(4497,2550)">
<rect x="0" y="0" width="1086" height="627" rx="5" fill="#000" filter="url(#sh)"/>
<g clip-path="url(#lp)">
<rect x="0" y="17" width="728" height="543" fill="url(#sky4)"/>
<path d="M0 370 C150 358 300 395 450 380 C580 368 660 375 728 385 L728 470 C600 480 400 500 200 490 C120 486 60 480 0 478Z" fill="url(#dots)" opacity="0.55"/>
<path d="M0 120 C40 118 90 125 120 140 L150 160 C175 180 200 205 230 215 C290 225 340 235 370 255 C382 265 386 290 384 320 C382 345 370 360 340 368 L0 382 Z" fill="#070407"/>
<path d="M0 150 L108 150 L145 176 L0 192Z" fill="#130c13"/>
<circle cx="285" cy="315" r="66" fill="#0b080b" stroke="#1e161e" stroke-width="6"/>
<circle cx="285" cy="315" r="40" fill="none" stroke="#241a24" stroke-width="3"/>
<path d="M332 262 Q346 268 352 282" stroke="#e6e6ff" stroke-width="3" fill="none"/>
<path d="M115 175 Q128 170 140 178" stroke="#ddd" stroke-width="1.5" fill="none"/>
<rect x="12" y="28" width="551" height="34" rx="17" fill="#2b0a27"/>
<rect x="12" y="28" width="115" height="34" rx="17" fill="#1f1b8c"/>
<circle cx="30" cy="45" r="7" fill="none" stroke="#fff" stroke-width="2"/>
<text x="45" y="50" font-size="12" font-weight="bold" fill="#fff">Drive mode</text>
<path d="M146 36 L140 46 L145 46 L142 55 L149 43 L144 43Z" fill="#ddd"/>
<rect x="314" y="37" width="3" height="16" fill="#ddd"/>
<rect x="430" y="38" width="14" height="12" rx="3" fill="#ddd"/>
<g font-size="12" fill="#ddd"><text x="161" y="50">Energy consumption</text><text x="328" y="50">Tire pressure</text><text x="453" y="50">Lights and doors</text></g>
<text x="24" y="497" font-size="14" fill="#b8a8b8">Driving mode</text>
<text x="24" y="531" font-size="30" font-weight="bold" fill="#fff">SPORT</text>
<g font-size="11" fill="#a898a8"><text x="235" y="501">Steering</text><text x="307" y="501">ACC</text><text x="364" y="501">Adaptive front lighting</text></g>
<g font-size="12" font-weight="bold" fill="#fff"><text x="235" y="518">Sport</text><text x="307" y="518">Sport</text><text x="364" y="518">Sport</text></g>
<rect x="595" y="504" width="121" height="33" fill="#c7009f"/>
<text x="625" y="525" font-size="11.5" font-weight="bold" fill="#fff">Change</text>
<path d="M680 524 L685 519 L690 524" stroke="#fff" stroke-width="1.8" fill="none"/>
</g>
<rect x="0" y="560" width="728" height="67" fill="#000"/>
<path d="M26 589 H46 M26 595 H46 M26 601 H46" stroke="#fff" stroke-width="2.2"/>
<circle cx="103" cy="595" r="22" fill="#2e2e2e"/>
<rect x="99" y="583" width="8" height="14" rx="4" fill="#fff"/><path d="M95 593 Q95 603 103 603 Q111 603 111 593 M103 603 V608" stroke="#fff" stroke-width="1.8" fill="none"/>
<g font-size="13" fill="#ccc" text-anchor="middle"><text x="200" y="601">Home</text><text x="280" y="601">Map</text><text x="359" y="601">Media</text><text x="437" y="601" fill="#fff" font-weight="bold">My Car</text><text x="517" y="601">Apps</text></g>
<rect x="432" y="610" width="10" height="2.5" fill="#fff"/>
<text x="628" y="600" font-size="12" fill="#999" text-anchor="middle">12:52</text>
<rect x="680" y="587" width="22" height="16" fill="none" stroke="#fff" stroke-width="2"/><path d="M691 591 L695 595 L691 599" stroke="#fff" stroke-width="1.5" fill="none"/>
<rect x="728" y="17" width="358" height="610" fill="#000"/>
<circle cx="752" cy="49" r="8" fill="#fff"/>
<path d="M747 46 Q752 44 757 47 M747.5 49.5 Q752 48 756.5 50.5 M748 53 Q752 52 755.5 53.5" stroke="#000" stroke-width="1.3" fill="none"/>
<text x="763" y="54" font-size="11" fill="#fff">Spotify</text>
<text x="745" y="91" font-size="15" font-weight="bold" fill="#fff">Take On Me</text>
<text x="745" y="111" font-size="11" fill="#ddd">a-ha</text>
<text x="745" y="131" font-size="8" fill="#888">Hunting High And Low</text>
<rect x="952" y="41" width="12" height="85" fill="#6a3a44"/>
<rect x="962" y="34" width="102" height="101" fill="url(#bw)"/>
<rect x="972" y="40" width="14" height="10" fill="#ccc"/><rect x="1000" y="38" width="10" height="12" fill="#bbb"/>
<ellipse cx="995" cy="100" rx="20" ry="28" fill="#222"/><ellipse cx="1030" cy="85" rx="12" ry="15" fill="#c8c8c8"/>
<text x="1040" y="128" font-size="13" font-style="italic" fill="#ccc">a-ha</text>
<line x1="745" y1="147" x2="1072" y2="147" stroke="#555" stroke-width="2.5"/>
<line x1="745" y1="147" x2="1028" y2="147" stroke="#d6009e" stroke-width="2.5"/>
<text x="745" y="162" font-size="8" fill="#ccc">02:58</text><text x="1072" y="162" font-size="8" fill="#ccc" text-anchor="end">03:26</text>
<rect x="757" y="185" width="2.5" height="14" fill="#fff"/><path d="M771 185 L760 192 L771 199Z" fill="#fff"/>
<circle cx="835" cy="192" r="18" fill="#fff"/><rect x="829" y="184" width="3.5" height="16" fill="#000"/><rect x="837.5" y="184" width="3.5" height="16" fill="#000"/>
<path d="M901 185 L912 192 L901 199Z" fill="#fff"/><rect x="912" y="185" width="2.5" height="14" fill="#fff"/>
<path d="M971 185 L987 199 M971 199 L977 193 M981 189 L987 185 M983 185 H987 V189 M983 199 H987 V195" stroke="#fff" stroke-width="2" fill="none"/>
<path d="M1050 201 L1041 192 A5 5 0 0 1 1050 184 A5 5 0 0 1 1059 192 Z" stroke="#fff" stroke-width="2" fill="none"/>
<rect x="728" y="219" width="358" height="3" fill="#1c1c1c"/>
<path d="M757 236 L750 242 L754 242 L754 247 Z" fill="#fff"/>
<text x="760" y="247" font-size="12" fill="#fff">Helsinki</text>
<text x="746" y="308" font-size="54" font-weight="bold" fill="#fff">22</text>
<text x="814" y="281" font-size="9" fill="#999">°C</text>
<text x="819" y="308" font-size="12" fill="#fff">Partially Cloudy</text>
<circle cx="1014" cy="274" r="24" fill="url(#moon)"/>
<g fill="#e8e8e8" filter="url(#bl2)"><ellipse cx="1032" cy="297" rx="28" ry="14"/><ellipse cx="1042" cy="285" rx="16" ry="13"/><ellipse cx="1010" cy="301" rx="16" ry="8"/></g>
<g font-size="11" fill="#888" text-anchor="middle"><text x="771" y="378">12:00</text><text x="839" y="378">13:00</text><text x="906" y="378">14:00</text><text x="973" y="378">15:00</text><text x="1040" y="378">16:00</text></g>
<g font-size="11" font-weight="bold" fill="#fff" text-anchor="middle"><text x="771" y="406">☼ 23°</text><text x="839" y="406">☼ 22°</text><text x="906" y="406">☼ 27°</text><text x="973" y="406">☼ 27°</text><text x="1040" y="406">☼ 26°</text></g>
<rect x="728" y="423" width="358" height="3" fill="#1c1c1c"/>
<text x="750" y="453" font-size="9" fill="#ddd">Estimated Range</text>
<text x="750" y="477" font-size="15" font-weight="bold" fill="#fff">140<tspan font-size="8" font-weight="normal" dx="3">km</tspan></text>
<rect x="983" y="448" width="31" height="13" rx="1.5" fill="none" stroke="#fff" stroke-width="1.5"/><rect x="986" y="451" width="13" height="7" fill="#2fa836"/><rect x="1014.5" y="452" width="2" height="5" fill="#fff"/>
<text x="1072" y="462" font-size="15" font-weight="bold" fill="#fff" text-anchor="end">50 %</text>
<text x="750" y="512" font-size="9" fill="#ddd">Avg. Consumption</text>
<text x="750" y="536" font-size="15" font-weight="bold" fill="#fff">356<tspan font-size="8" font-weight="normal" dx="3">Wh / km</tspan></text>
<text x="750" y="571" font-size="9" fill="#ddd">Avg. Speed</text>
<text x="750" y="595" font-size="15" font-weight="bold" fill="#fff">43<tspan font-size="8" font-weight="normal" dx="3">km / h</tspan></text>
<path d="M915 560 C918 545 935 538 960 532 L1010 505 C1030 498 1070 496 1086 497 L1086 610 L1050 615 C1045 635 1010 640 1000 615 L960 612 C940 612 918 605 912 590 Z" fill="#2a2a2e"/>
<path d="M985 527 L1015 508 L1060 503 L1060 527 Z" fill="#121214"/>
<circle cx="1012" cy="592" r="24" fill="#151515" stroke="#555" stroke-width="2"/>
<line x1="916" y1="556" x2="942" y2="549" stroke="#7a40ff" stroke-width="2"/>
<path d="M5 0 H1081 Q1086 0 1086 5 V17 H0 V5 Q0 0 5 0Z" fill="#353535"/>
<circle cx="7" cy="8.5" r="2.6" fill="#ff5f57"/><circle cx="14" cy="8.5" r="2.6" fill="#febc2e"/><circle cx="21" cy="8.5" r="2.6" fill="#28c840"/>
<text x="543" y="11" font-size="6" fill="#999" text-anchor="middle">Outrun IVI</text>
</g>

</svg>
</body></html>
